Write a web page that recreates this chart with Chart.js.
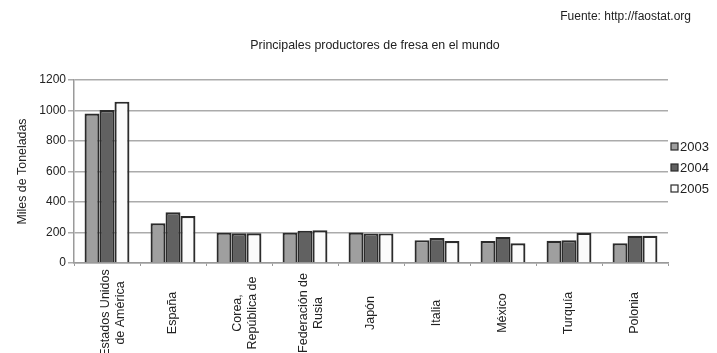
<!DOCTYPE html>
<html lang="es">
<head>
<meta charset="utf-8">
<title>Principales productores de fresa en el mundo</title>
<script src="https://cdn.jsdelivr.net/npm/chart.js@4/dist/chart.umd.min.js"></script>
<style>
  html, body { margin: 0; padding: 0; background: #ffffff; }
  #wrap { width: 717px; height: 353px; }
</style>
</head>
<body>
<div id="wrap"><canvas id="c" width="717" height="353"></canvas></div>
<script>
// Países (cada etiqueta en líneas)
const categories = [
  ['Estados Unidos', 'de América'],
  ['España'],
  ['Corea,', 'República de'],
  ['Federación de', 'Rusia'],
  ['Japón'],
  ['Italia'],
  ['México'],
  ['Turquía'],
  ['Polonia']
];
// Producción en miles de toneladas
const years = ['2003', '2004', '2005'];
const prod2003 = [980, 260, 199, 199, 200, 150, 144, 146, 129];
const prod2004 = [1003, 332, 195, 212, 194, 164, 171, 150, 178];
const prod2005 = [1058, 308, 195, 214, 194, 144, 129, 198, 178];
const yTicks = [0, 200, 400, 600, 800, 1000, 1200];

const chartTitle = 'Principales productores de fresa en el mundo';
const sourceText = 'Fuente: http://faostat.org';
const yTitle = 'Miles de Toneladas';

const FONT = '"Liberation Sans", Arial, sans-serif';
const TEXT = '#222222';
const fills = ['#9f9f9f', '#616161', '#fbfbfb'];
const edge = '#2b2b2b';

// Títulos, etiquetas de categoría y leyenda
const decor = {
  id: 'decor',
  afterDraw(chart) {
    const ctx = chart.ctx;
    const area = chart.chartArea;
    const xs = chart.scales.x;
    ctx.save();
    ctx.fillStyle = TEXT;

    ctx.textBaseline = 'middle';
    ctx.font = '12px ' + FONT;
    ctx.textAlign = 'right';
    ctx.fillText(sourceText, 691, 17);
    ctx.font = '12.4px ' + FONT;
    ctx.textAlign = 'center';
    ctx.fillText(chartTitle, 375, 46);

    // etiquetas del eje X, giradas y centradas
    ctx.font = '12.5px ' + FONT;
    const labelMid = 313;
    const lineH = 15;
    categories.forEach((lines, i) => {
      // los bloques de dos líneas quedan algo desplazados a la derecha
      const x = xs.getPixelForValue(i) + (lines.length > 1 ? 6 : 0);
      ctx.save();
      ctx.translate(x, labelMid);
      ctx.rotate(-Math.PI / 2);
      ctx.textAlign = 'center';
      ctx.textBaseline = 'middle';
      lines.forEach((ln, k) => {
        ctx.fillText(ln, 0, (k - (lines.length - 1) / 2) * lineH);
      });
      ctx.restore();
    });

    // leyenda
    ctx.font = '13px ' + FONT;
    ctx.textAlign = 'left';
    ctx.textBaseline = 'middle';
    const lx = area.right + 3;
    const ly0 = 147;
    chart.data.datasets.forEach((ds, i) => {
      const y = ly0 + i * 21;
      ctx.fillStyle = ds.backgroundColor;
      ctx.fillRect(lx, y - 4, 7, 7);
      ctx.strokeStyle = edge;
      ctx.lineWidth = 1.2;
      ctx.strokeRect(lx, y - 4, 7, 7);
      ctx.fillStyle = TEXT;
      ctx.fillText(ds.label, lx + 9, y);
    });
    ctx.restore();
  }
};

new Chart(document.getElementById('c'), {
  type: 'bar',
  data: {
    labels: categories,
    datasets: [
      { label: years[0], data: prod2003, backgroundColor: fills[0] },
      { label: years[1], data: prod2004, backgroundColor: fills[1] },
      { label: years[2], data: prod2005, backgroundColor: fills[2] }
    ]
  },
  options: {
    responsive: false,
    animation: false,
    devicePixelRatio: 1,
    layout: { padding: { top: 80, right: 49, left: 0, bottom: 0 } },
    datasets: {
      bar: {
        borderColor: edge,
        borderWidth: 2.2,
        categoryPercentage: 0.68,
        barPercentage: 1.0
      }
    },
    plugins: {
      legend: { display: false },
      title: { display: false },
      tooltip: { enabled: false }
    },
    scales: {
      x: {
        afterFit(scale) { scale.height = 90; },
        ticks: { display: false },
        grid: {
          offset: true,
          drawOnChartArea: false,
          drawTicks: true,
          tickLength: 3,
          color: '#9a9a9a',
          lineWidth: 1
        },
        border: { color: '#9a9a9a', width: 1.5 }
      },
      y: {
        min: 0,
        max: 1200,
        afterFit(scale) { scale.width = 74; },
        afterBuildTicks(scale) { scale.ticks = yTicks.map(v => ({ value: v })); },
        ticks: {
          color: TEXT,
          font: { family: FONT, size: 12 },
          padding: 2,
          callback: (v) => String(v)
        },
        grid: {
          color: '#ababab',
          lineWidth: 1.5,
          drawTicks: true,
          tickLength: 6
        },
        border: { color: '#9a9a9a', width: 1.5 },
        title: {
          display: true,
          text: yTitle,
          color: TEXT,
          font: { family: FONT, size: 12.4 },
          padding: { top: 15, bottom: 0 }
        }
      }
    }
  },
  plugins: [decor]
});
</script>
</body>
</html>
